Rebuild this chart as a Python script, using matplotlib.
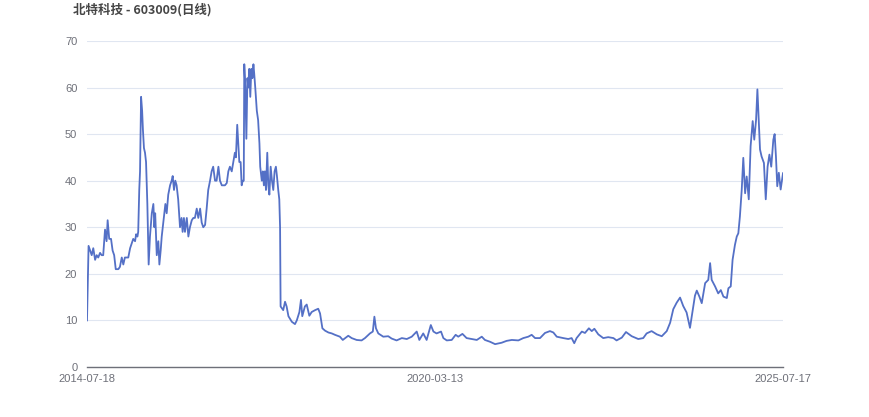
import matplotlib
matplotlib.use("Agg")
import matplotlib.pyplot as plt

title = "北特科技 - 603009(日线)"
tick_dates = ["2014-07-18", "2020-03-13", "2025-07-17"]
n_days = 2665

trade_day = [
    0, 6, 18, 24, 31, 37, 43, 50, 56, 62, 69, 75, 79, 85, 92, 98, 104, 110, 120, 126,
    133, 139, 145, 152, 158, 165, 171, 177, 184, 188, 193, 196, 200, 203, 207, 211, 214, 218, 222, 226,
    231, 236, 241, 248, 254, 258, 261, 267, 273, 277, 282, 286, 292, 300, 305, 311, 318, 324, 328, 333,
    338, 343, 349, 356, 362, 366, 371, 375, 382, 388, 394, 401, 407, 413, 420, 426, 433, 439, 445, 452,
    458, 464, 471, 477, 483, 490, 496, 503, 509, 516, 522, 528, 535, 541, 547, 554, 560, 566, 570, 575,
    579, 583, 588, 592, 596, 600, 602, 606, 610, 614, 617, 621, 625, 629, 633, 637, 640, 644, 650, 655,
    660, 663, 669, 673, 677, 681, 685, 690, 694, 698, 703, 708, 713, 718, 723, 727, 732, 736, 739, 741,
    751, 758, 764, 771, 784, 796, 803, 813, 819, 824, 834, 841, 851, 860, 873, 885, 892, 901, 911, 924,
    937, 949, 968, 979, 1000, 1013, 1032, 1051, 1064, 1083, 1094, 1100, 1106, 1115, 1134, 1153, 1166, 1185, 1205, 1224,
    1243, 1262, 1272, 1287, 1300, 1316, 1326, 1338, 1355, 1364, 1377, 1396, 1411, 1421, 1437, 1453, 1472, 1492, 1511, 1523,
    1543, 1562, 1587, 1606, 1626, 1651, 1670, 1689, 1702, 1715, 1734, 1753, 1772, 1785, 1798, 1823, 1842, 1855, 1865, 1874,
    1894, 1906, 1921, 1932, 1942, 1957, 1976, 1995, 2015, 2027, 2047, 2063, 2085, 2110, 2129, 2142, 2161, 2181, 2200, 2219,
    2232, 2244, 2257, 2270, 2282, 2295, 2308, 2315, 2327, 2334, 2344, 2353, 2366, 2378, 2385, 2391, 2404, 2416, 2426, 2436,
    2449, 2455, 2464, 2471, 2480, 2487, 2493, 2499, 2506, 2512, 2519, 2525, 2533, 2540, 2548, 2554, 2561, 2566, 2571, 2576,
    2582, 2591, 2598, 2605, 2612, 2619, 2627, 2632, 2637, 2642, 2648, 2655, 2664,
]

close = [
    10, 26, 24, 25.5, 23, 24, 23.5, 24.5, 24, 24, 29.5, 27, 31.5, 27.5, 27.5, 25, 24, 21, 21, 21.5,
    23.5, 22, 23.5, 23.5, 23.5, 25.5, 26.5, 27.5, 27, 28.5, 28, 29, 38, 42, 58, 55, 51, 47, 46, 44,
    35, 22, 28, 33, 35, 30, 33, 24, 27, 22, 25, 28, 31, 35, 33, 37, 39, 40, 41, 38,
    40, 39, 36, 30, 32, 29, 32, 29, 32, 28, 30, 31.5, 32, 32, 34, 32, 34, 31, 30, 30.5,
    34, 38, 40, 42, 43, 40, 40, 43, 40, 39, 39, 39, 39.5, 42, 43, 42, 44, 46, 45, 52,
    48, 44, 44, 39, 40, 40, 65, 60, 49, 62, 60, 64, 58, 64, 62, 65, 63, 60, 55, 53,
    48, 43, 40, 42, 39, 42, 38, 46, 39, 37, 43, 40, 38, 42, 43, 41, 38, 36, 30, 13,
    12.2, 14, 13, 10.9, 9.7, 9.2, 10, 11.8, 14.4, 10.9, 13, 13.4, 11, 11.8, 12.2, 12.5, 11.5, 8.3, 7.8, 7.4,
    7.2, 6.9, 6.5, 5.8, 6.7, 6.2, 5.8, 5.7, 6.2, 7.2, 7.6, 10.8, 8.3, 7.2, 6.5, 6.6, 6.1, 5.7, 6.2, 6.0,
    6.5, 7.6, 5.8, 7.2, 5.8, 9.0, 7.6, 7.2, 7.6, 6.2, 5.7, 5.8, 6.9, 6.5, 7.1, 6.2, 6.0, 5.8, 6.5, 5.8,
    5.4, 4.9, 5.2, 5.6, 5.8, 5.7, 6.2, 6.5, 6.9, 6.2, 6.2, 7.3, 7.7, 7.4, 6.5, 6.2, 6.0, 6.2, 5.1, 6.2,
    7.6, 7.3, 8.3, 7.7, 8.2, 7.0, 6.2, 6.4, 6.2, 5.7, 6.3, 7.5, 6.6, 6.0, 6.2, 7.2, 7.7, 7.0, 6.6, 7.7,
    9.5, 12.4, 13.8, 14.9, 13.1, 11.7, 8.4, 10.9, 15.3, 16.4, 15.1, 13.7, 18, 18.7, 22.3, 18.7, 17.3, 15.8, 16.5, 15.1,
    14.8, 16.9, 17.3, 23, 26.2, 28, 28.7, 32.3, 38, 44.9, 37.3, 40.9, 36, 47.4, 52.8, 48.8, 53.1, 59.6, 53, 46.7,
    45.2, 43.8, 36, 43, 45.6, 43, 48.8, 50, 45.2, 38.8, 41.7, 38.1, 41.6,
]

y_ticks = [0, 10, 20, 30, 40, 50, 60, 70]

plt.rcParams['font.family'] = ['Liberation Sans', 'Noto Sans CJK SC', 'DejaVu Sans']

fig = plt.figure(figsize=(8.7, 4.17), dpi=100)
ax = fig.add_axes([0.1, 0.12, 0.8, 0.7818])

ax.plot(trade_day, close, color='#5470c6', linewidth=1.3, solid_joinstyle='round')

ax.set_xlim(0, n_days - 1)
ax.set_ylim(0, 70)
ax.set_yticks(y_ticks)
ax.set_yticklabels([str(v) for v in y_ticks])
ax.set_xticks([0, (n_days - 1) // 2, n_days - 1])
ax.set_xticklabels(tick_dates)

ax.grid(axis='y', color='#E0E6F1', linewidth=0.8)
ax.set_axisbelow(True)
for s in ['top', 'right', 'left']:
    ax.spines[s].set_visible(False)
ax.spines['bottom'].set_color('#6E7079')
ax.spines['bottom'].set_linewidth(1)
ax.tick_params(axis='both', length=0, colors='#6E7079', labelsize=8)
ax.tick_params(axis='y', pad=7)
ax.tick_params(axis='x', pad=5)

fig.text(73 / 870, 1 - 3 / 417, title, ha='left', va='top', fontsize=9,
         fontweight='bold', color='#464646',
         family=['Noto Sans CJK SC', 'DejaVu Sans'])

fig.savefig('out.png', dpi=100)
